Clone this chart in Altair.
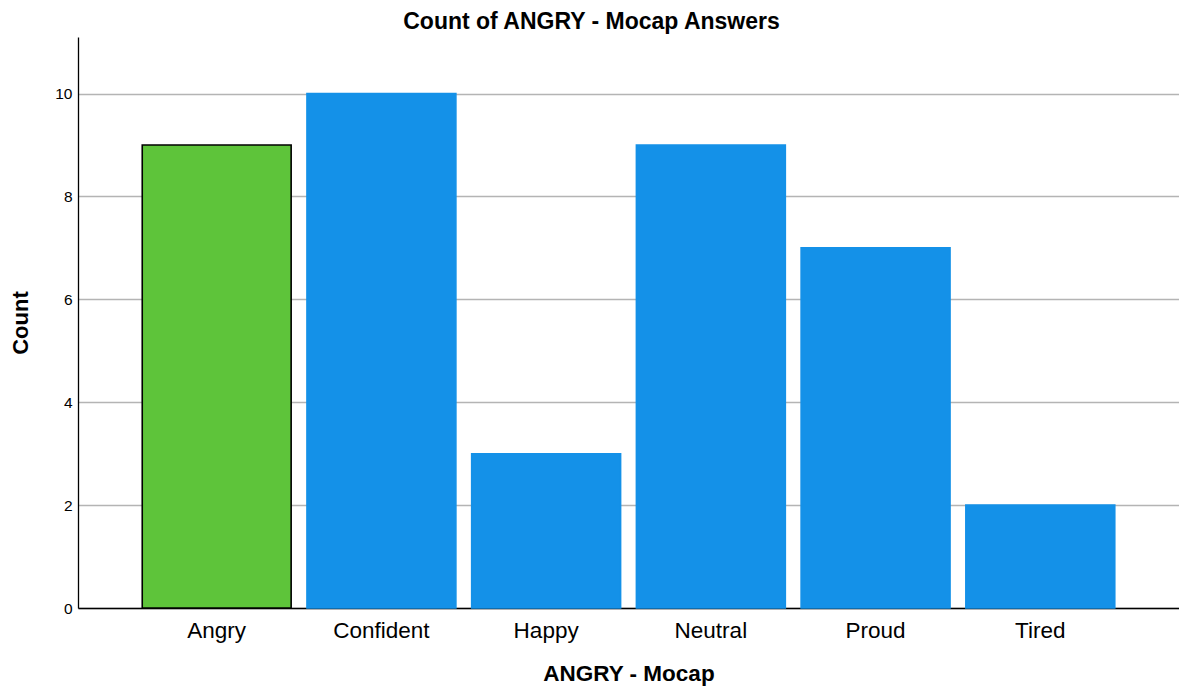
import altair as alt
import pandas as pd

categories = ["Angry", "Confident", "Happy", "Neutral", "Proud", "Tired"]
counts = [9, 10, 3, 9, 7, 2]
groups = ["match", "other", "other", "other", "other", "other"]

df = pd.DataFrame({"answer": categories, "count": counts, "group": groups})

FONT = "Liberation Sans"

base = alt.Chart(df).encode(
    x=alt.X(
        "answer:N",
        sort=categories,
        title="ANGRY - Mocap",
        scale=alt.Scale(paddingInner=0.096, paddingOuter=0.39),
        axis=alt.Axis(
            labelAngle=0,
            labelFontSize=22.5,
            labelFont=FONT,
            labelColor="#000000",
            labelPadding=11,
            ticks=False,
            domainColor="#000000",
            domainWidth=1.3,
            titleFontSize=22.5,
            titleFont=FONT,
            titleFontWeight="bold",
            titleColor="#000000",
            titlePadding=21,
        ),
    ),
    y=alt.Y(
        "count:Q",
        title="Count",
        scale=alt.Scale(domain=[0, 11.1], nice=False),
        axis=alt.Axis(
            values=[0, 2, 4, 6, 8, 10],
            labelFontSize=15.5,
            labelFont=FONT,
            labelColor="#000000",
            labelPadding=6,
            ticks=False,
            domainColor="#000000",
            domainWidth=1.3,
            grid=True,
            gridColor="#b4b4b4",
            gridWidth=1.3,
            titleFontSize=22,
            titleFont=FONT,
            titleFontWeight="bold",
            titleColor="#000000",
            titlePadding=22,
        ),
    ),
)

bars = base.mark_bar(strokeWidth=1.6).encode(
    color=alt.Color(
        "group:N",
        scale=alt.Scale(domain=["match", "other"], range=["#5EC43A", "#1491E8"]),
        legend=None,
    ),
    stroke=alt.Stroke(
        "group:N",
        scale=alt.Scale(domain=["match", "other"], range=["#000000", "#1491E8"]),
        legend=None,
    ),
)

chart = bars.properties(
    width=1101,
    height=571,
    title=alt.TitleParams(
        "Count of ANGRY - Mocap Answers",
        fontSize=23,
        font=FONT,
        fontWeight="bold",
        color="#000000",
        anchor="middle",
        dx=-37,
        offset=3,
    ),
    autosize=alt.AutoSizeParams(type="none"),
    padding={"left": 70, "top": 29, "right": 0, "bottom": 83},
).configure(
    background="#ffffff",
    view=alt.ViewConfig(stroke=None),
)

chart.save("out.html", embed_options={"renderer": "svg", "actions": False})
